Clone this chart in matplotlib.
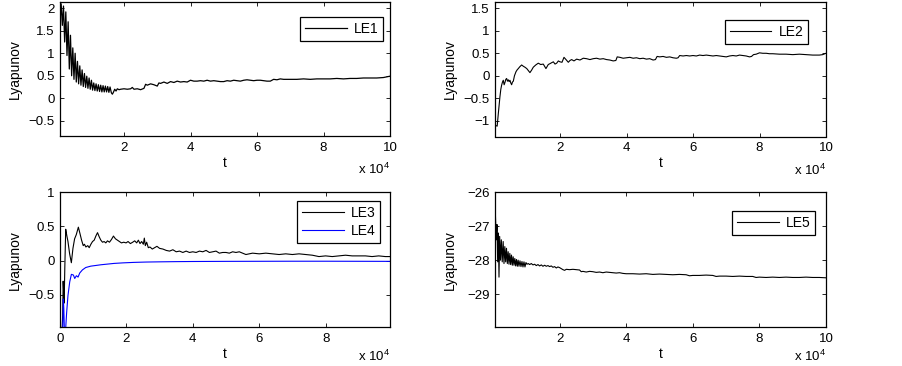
import matplotlib
matplotlib.use("Agg")
import matplotlib.pyplot as plt

plt.rcParams['font.family'] = ['Liberation Sans', 'DejaVu Sans']
plt.rcParams['mathtext.fontset'] = 'custom'
plt.rcParams['mathtext.rm'] = 'Liberation Sans'

# LE1 (top left)
t_le1 = [750, 1100, 1450, 1800, 2150, 2500, 2850, 3200, 3550, 3900,
         4250, 4600, 4950, 5300, 5650, 6000, 6350, 6700, 7050, 7400,
         7750, 8100, 8450, 8800, 9150, 9500, 9850, 10200, 10550, 10900,
         11250, 11600, 11950, 12300, 12650, 13000, 13350, 13700, 14050, 14400,
         14750, 15100, 15450, 15800, 16200, 16500, 16800, 17200, 17600, 18000,
         18500, 19000, 20000, 21000, 22000, 22500, 23000, 24000, 25000, 26000,
         26500, 27000, 28000, 29000, 30000, 30500, 31000, 32000, 33000, 34000,
         35000, 36000, 37000, 38000, 39000, 40000, 41000, 42000, 43000, 44000,
         45000, 46000, 47000, 48000, 49000, 50000, 51000, 52000, 53000, 54000,
         55000, 56000, 57000, 58000, 59000, 60000, 61000, 62000, 63000, 64000,
         65000, 66000, 67000, 68000, 69000, 70000, 72000, 74000, 76000, 78000,
         80000, 82000, 84000, 86000, 88000, 90000, 92000, 94000, 96000, 98000, 100000]
le1 = [1.70, 2.10, 1.62, 2.05, 1.25, 1.92, 0.95, 1.70, 0.65, 1.40,
       0.50, 1.12, 0.42, 1.00, 0.36, 0.82, 0.32, 0.72, 0.29, 0.63,
       0.26, 0.55, 0.24, 0.49, 0.22, 0.45, 0.20, 0.40, 0.18, 0.34,
       0.17, 0.32, 0.16, 0.30, 0.15, 0.29, 0.14, 0.28, 0.14, 0.27,
       0.14, 0.26, 0.13, 0.25, 0.12, 0.09, 0.13, 0.20, 0.16, 0.21,
       0.19, 0.20, 0.21, 0.20, 0.21, 0.24, 0.20, 0.21, 0.19, 0.22,
       0.31, 0.29, 0.32, 0.30, 0.27, 0.34, 0.33, 0.36, 0.33, 0.37,
       0.35, 0.38, 0.36, 0.37, 0.36, 0.40, 0.38, 0.38, 0.39, 0.38,
       0.40, 0.38, 0.39, 0.38, 0.37, 0.37, 0.39, 0.38, 0.40, 0.39,
       0.38, 0.40, 0.41, 0.40, 0.39, 0.40, 0.40, 0.39, 0.38, 0.38,
       0.42, 0.41, 0.43, 0.42, 0.42, 0.42, 0.42, 0.43, 0.42, 0.43,
       0.43, 0.43, 0.44, 0.43, 0.44, 0.44, 0.45, 0.45, 0.45, 0.46, 0.49]

# LE2 (top right)
t_le2 = [500, 1100, 1500, 1930, 2200, 2440, 2700, 2940, 3200, 3440,
         3700, 3950, 4200, 4450, 4700, 4950, 5200, 5450, 5700, 5960,
         6300, 6760, 7100, 7460, 7900, 8460, 9000, 9460, 10000, 10960,
         11500, 11960, 12700, 13470, 14200, 14970, 15770, 16470, 17000, 17470,
         18000, 18500, 19000, 19500, 20000, 20600, 21200, 21800, 22500, 23000,
         23500, 24200, 25000, 26000, 27000, 28000, 29000, 30000, 31000, 32000,
         33000, 34000, 35000, 36000, 36800, 37200, 38000, 39000, 40000, 41000,
         42000, 43000, 44000, 45000, 46000, 47000, 48000, 48700, 49200, 50000,
         51000, 52000, 53000, 54000, 55000, 55500, 56000, 57000, 58000, 59000,
         60000, 61000, 62000, 63000, 64000, 65000, 66000, 67000, 68000, 69000,
         70000, 71000, 72000, 73000, 74000, 75000, 76000, 77000, 77600, 78200,
         79000, 80000, 81000, 82000, 83000, 84000, 86000, 88000, 90000, 92000,
         94000, 96000, 98000, 99000, 100000]
le2 = [-1.10, -1.12, -0.80, -0.47, -0.30, -0.21, -0.14, -0.10, -0.20, -0.15,
       -0.08, -0.06, -0.12, -0.09, -0.13, -0.10, -0.16, -0.20, -0.14, -0.12,
       0.00, 0.09, 0.13, 0.16, 0.20, 0.24, 0.21, 0.19, 0.16, 0.07,
       0.13, 0.19, 0.24, 0.28, 0.25, 0.26, 0.16, 0.25, 0.27, 0.29,
       0.31, 0.26, 0.28, 0.33, 0.31, 0.30, 0.41, 0.36, 0.30, 0.34,
       0.36, 0.33, 0.37, 0.35, 0.39, 0.38, 0.36, 0.38, 0.39, 0.37,
       0.38, 0.36, 0.35, 0.33, 0.34, 0.42, 0.41, 0.39, 0.40, 0.41,
       0.39, 0.40, 0.38, 0.39, 0.37, 0.38, 0.35, 0.36, 0.43, 0.42,
       0.43, 0.41, 0.42, 0.40, 0.39, 0.40, 0.45, 0.44, 0.45, 0.44,
       0.45, 0.44, 0.46, 0.45, 0.46, 0.45, 0.44, 0.45, 0.44, 0.43,
       0.42, 0.44, 0.45, 0.44, 0.46, 0.45, 0.44, 0.42, 0.43, 0.47,
       0.48, 0.51, 0.50, 0.50, 0.49, 0.49, 0.48, 0.48, 0.47, 0.48,
       0.47, 0.46, 0.46, 0.47, 0.50]

# LE3 / LE4 (bottom left)
t_le3 = [600, 800, 950, 1100, 1250, 1450, 1720, 2000, 2400, 2900,
         3420, 3900, 4400, 4900, 5530, 6000, 6500, 7000, 7360, 7800,
         8360, 8800, 9300, 9800, 10300, 10800, 11300, 11800, 12300, 12800,
         13300, 13800, 14300, 14900, 15500, 16100, 16700, 17300, 17900, 18500,
         19200, 19900, 20500, 21200, 21900, 22500, 23100, 23600, 24100, 24600,
         25100, 25400, 25700, 26100, 26600, 27100, 27800, 28500, 29200, 30000,
         31000, 32000, 33000, 34000, 35000, 36000, 37000, 38000, 39000, 40000,
         41000, 42000, 43000, 44000, 45000, 46000, 47000, 48000, 49000, 50000,
         51000, 52000, 53000, 54000, 55000, 56000, 57000, 58000, 60000, 62000,
         64000, 66000, 68000, 70000, 72000, 74000, 76000, 78000, 80000, 82000,
         84000, 86000, 88000, 90000, 92000, 94000, 96000, 98000, 99400]
le3 = [-1.05, -0.80, -0.30, -0.45, -0.62, -0.10, 0.46, 0.38, 0.28, 0.10,
       -0.03, 0.18, 0.32, 0.38, 0.49, 0.40, 0.30, 0.22, 0.24, 0.20,
       0.22, 0.19, 0.24, 0.28, 0.30, 0.36, 0.41, 0.35, 0.30, 0.27,
       0.28, 0.26, 0.29, 0.27, 0.31, 0.36, 0.32, 0.30, 0.28, 0.26,
       0.27, 0.26, 0.28, 0.25, 0.27, 0.29, 0.26, 0.30, 0.25, 0.28,
       0.24, 0.33, 0.22, 0.27, 0.19, 0.20, 0.17, 0.19, 0.21, 0.18,
       0.17, 0.15, 0.14, 0.16, 0.13, 0.14, 0.12, 0.14, 0.12, 0.13,
       0.12, 0.14, 0.13, 0.15, 0.12, 0.13, 0.14, 0.11, 0.12, 0.12,
       0.11, 0.13, 0.12, 0.13, 0.11, 0.09, 0.10, 0.11, 0.10, 0.11,
       0.10, 0.09, 0.10, 0.09, 0.10, 0.09, 0.08, 0.06, 0.07, 0.06,
       0.07, 0.08, 0.07, 0.07, 0.07, 0.06, 0.07, 0.06, 0.06]

t_le4 = [600, 800, 1000, 1150, 1300, 1500, 1700, 2000, 2400, 2930,
         3430, 4040, 4440, 4940, 5440, 5950, 6750, 7750, 9270, 10800,
         12300, 14300, 16300, 19000, 22300, 26000, 30000, 35000, 40000, 50000,
         60000, 70000, 80000, 90000, 99400]
le4 = [-1.10, -1.05, -0.56, -0.70, -0.98, -1.10, -1.00, -0.76, -0.51, -0.31,
       -0.20, -0.21, -0.26, -0.22, -0.24, -0.18, -0.135, -0.10, -0.08, -0.07,
       -0.06, -0.05, -0.04, -0.032, -0.025, -0.02, -0.017, -0.014, -0.012, -0.01,
       -0.009, -0.008, -0.008, -0.009, -0.01]

# LE5 (bottom right)
t_le5 = [600, 800, 1000, 1200, 1400, 1600, 1800, 2000, 2250, 2500,
         2770, 3050, 3300, 3550, 3800, 4050, 4300, 4550, 4800, 5050,
         5300, 5550, 5800, 6050, 6300, 6550, 6800, 7050, 7300, 7550,
         7800, 8100, 8400, 8700, 9000, 9300, 9600, 9900, 10200, 10600,
         11000, 11500, 12000, 12500, 13000, 13500, 14000, 14500, 15000, 15500,
         16000, 16500, 17000, 17500, 18000, 18500, 19000, 19500, 20000, 20500,
         21000, 21500, 22000, 23000, 24000, 25000, 26000, 26500, 27000, 28000,
         29000, 30000, 31000, 32000, 33000, 34000, 35000, 36000, 37000, 38000,
         39000, 40000, 42000, 44000, 46000, 48000, 50000, 52000, 54000, 56000,
         58000, 59000, 60000, 62000, 64000, 66000, 67000, 68000, 70000, 72000,
         74000, 76000, 78000, 79000, 80000, 82000, 84000, 86000, 88000, 90000,
         92000, 94000, 96000, 98000, 100000]
le5 = [-26.30, -26.90, -27.40, -26.95, -28.05, -27.20, -28.50, -27.30, -28.00, -27.40,
       -28.05, -27.45, -28.10, -27.60, -28.05, -27.65, -28.10, -27.75, -28.12, -27.80,
       -28.13, -27.85, -28.15, -27.90, -28.15, -27.95, -28.17, -27.98, -28.18, -28.00,
       -28.18, -28.02, -28.19, -28.04, -28.20, -28.05, -28.20, -28.07, -28.12, -28.10,
       -28.13, -28.10, -28.14, -28.12, -28.16, -28.13, -28.17, -28.14, -28.18, -28.15,
       -28.18, -28.16, -28.19, -28.17, -28.21, -28.19, -28.23, -28.20, -28.22, -28.25,
       -28.28, -28.30, -28.27, -28.28, -28.27, -28.28, -28.29, -28.34, -28.33, -28.35,
       -28.33, -28.34, -28.36, -28.35, -28.37, -28.35, -28.36, -28.37, -28.38, -28.37,
       -28.39, -28.40, -28.40, -28.41, -28.40, -28.42, -28.41, -28.42, -28.43, -28.42,
       -28.43, -28.46, -28.45, -28.45, -28.44, -28.45, -28.48, -28.47, -28.47, -28.48,
       -28.47, -28.48, -28.48, -28.51, -28.50, -28.51, -28.50, -28.51, -28.50, -28.51,
       -28.51, -28.50, -28.51, -28.51, -28.52]

xtick_top = [20000, 40000, 60000, 80000, 100000]
xtick_bottom_left = [0, 20000, 40000, 60000, 80000]

W, H = 903, 366
fig = plt.figure(figsize=(W / 100, H / 100), dpi=100)


def make_axes(left, top, right, bottom):
    return fig.add_axes([left / W, 1 - bottom / H, (right - left) / W, (bottom - top) / H])


def style(ax, xlim, ylim, xticks, yticks, ytick_labels, off_y):
    ax.set_xlim(*xlim)
    ax.set_ylim(*ylim)
    ax.set_xticks(xticks)
    ax.set_xticklabels([f'{x / 1e4:g}' for x in xticks])
    ax.set_yticks(yticks)
    ax.set_yticklabels(ytick_labels)
    ax.tick_params(direction='in', top=True, right=True, length=3, width=0.6,
                   labelsize=9.5, pad=4)
    for s in ax.spines.values():
        s.set_linewidth(0.9)
    ax.set_xlabel('t', fontsize=10, va='center')
    ax.xaxis.set_label_coords(0.5, -0.2)
    ax.set_ylabel('Lyapunov', fontsize=10, va='center')
    ax.yaxis.set_label_coords(-0.137, 0.5)
    ax.text(1.0, off_y, r'x 10$^{4}$', transform=ax.transAxes, ha='right',
            va='center', fontsize=9.5)


def legend(ax, anchor):
    lg = ax.legend(loc='upper right', bbox_to_anchor=anchor, borderaxespad=0,
                   fontsize=10, handlelength=3.0, fancybox=False, framealpha=1,
                   borderpad=0.35, handletextpad=0.5, labelspacing=0.3)
    lg.get_frame().set_edgecolor('k')
    lg.get_frame().set_linewidth(0.9)


# top left
ax1 = make_axes(60, 2, 390, 136)
ax1.plot(t_le1, le1, color='k', lw=0.9, label='LE1')
style(ax1, (750, 100000), (-0.84, 2.14), xtick_top,
      [-0.5, 0, 0.5, 1, 1.5, 2], ['\u22120.5', '0', '0.5', '1', '1.5', '2'], -0.25)
legend(ax1, (0.979, 0.888))

# top right
ax2 = make_axes(495, 2, 826, 136.5)
ax2.plot(t_le2, le2, color='k', lw=0.8, label='LE2')
style(ax2, (450, 100000), (-1.35, 1.64), xtick_top,
      [-1, -0.5, 0, 0.5, 1, 1.5], ['\u22121', '\u22120.5', '0', '0.5', '1', '1.5'], -0.25)
legend(ax2, (0.946, 0.866))

# bottom left
ax3 = make_axes(60, 192.3, 390, 327)
ax3.plot(t_le3, le3, color='k', lw=0.8, label='LE3')
ax3.plot(t_le4, le4, color='#0000ff', lw=0.8, label='LE4')
style(ax3, (0, 99400), (-0.97, 1.0), xtick_bottom_left,
      [-0.5, 0, 0.5, 1], ['\u22120.5', '0', '0.5', '1'], -0.215)
legend(ax3, (0.97, 0.933))

# bottom right
ax4 = make_axes(495, 192.3, 826, 327)
ax4.plot(t_le5, le5, color='k', lw=0.8, label='LE5')
style(ax4, (600, 100000), (-29.97, -26.0), xtick_top,
      [-29, -28, -27, -26], ['\u221229', '\u221228', '\u221227', '\u221226'], -0.215)
legend(ax4, (0.967, 0.859))

fig.savefig('out.png', dpi=100)
